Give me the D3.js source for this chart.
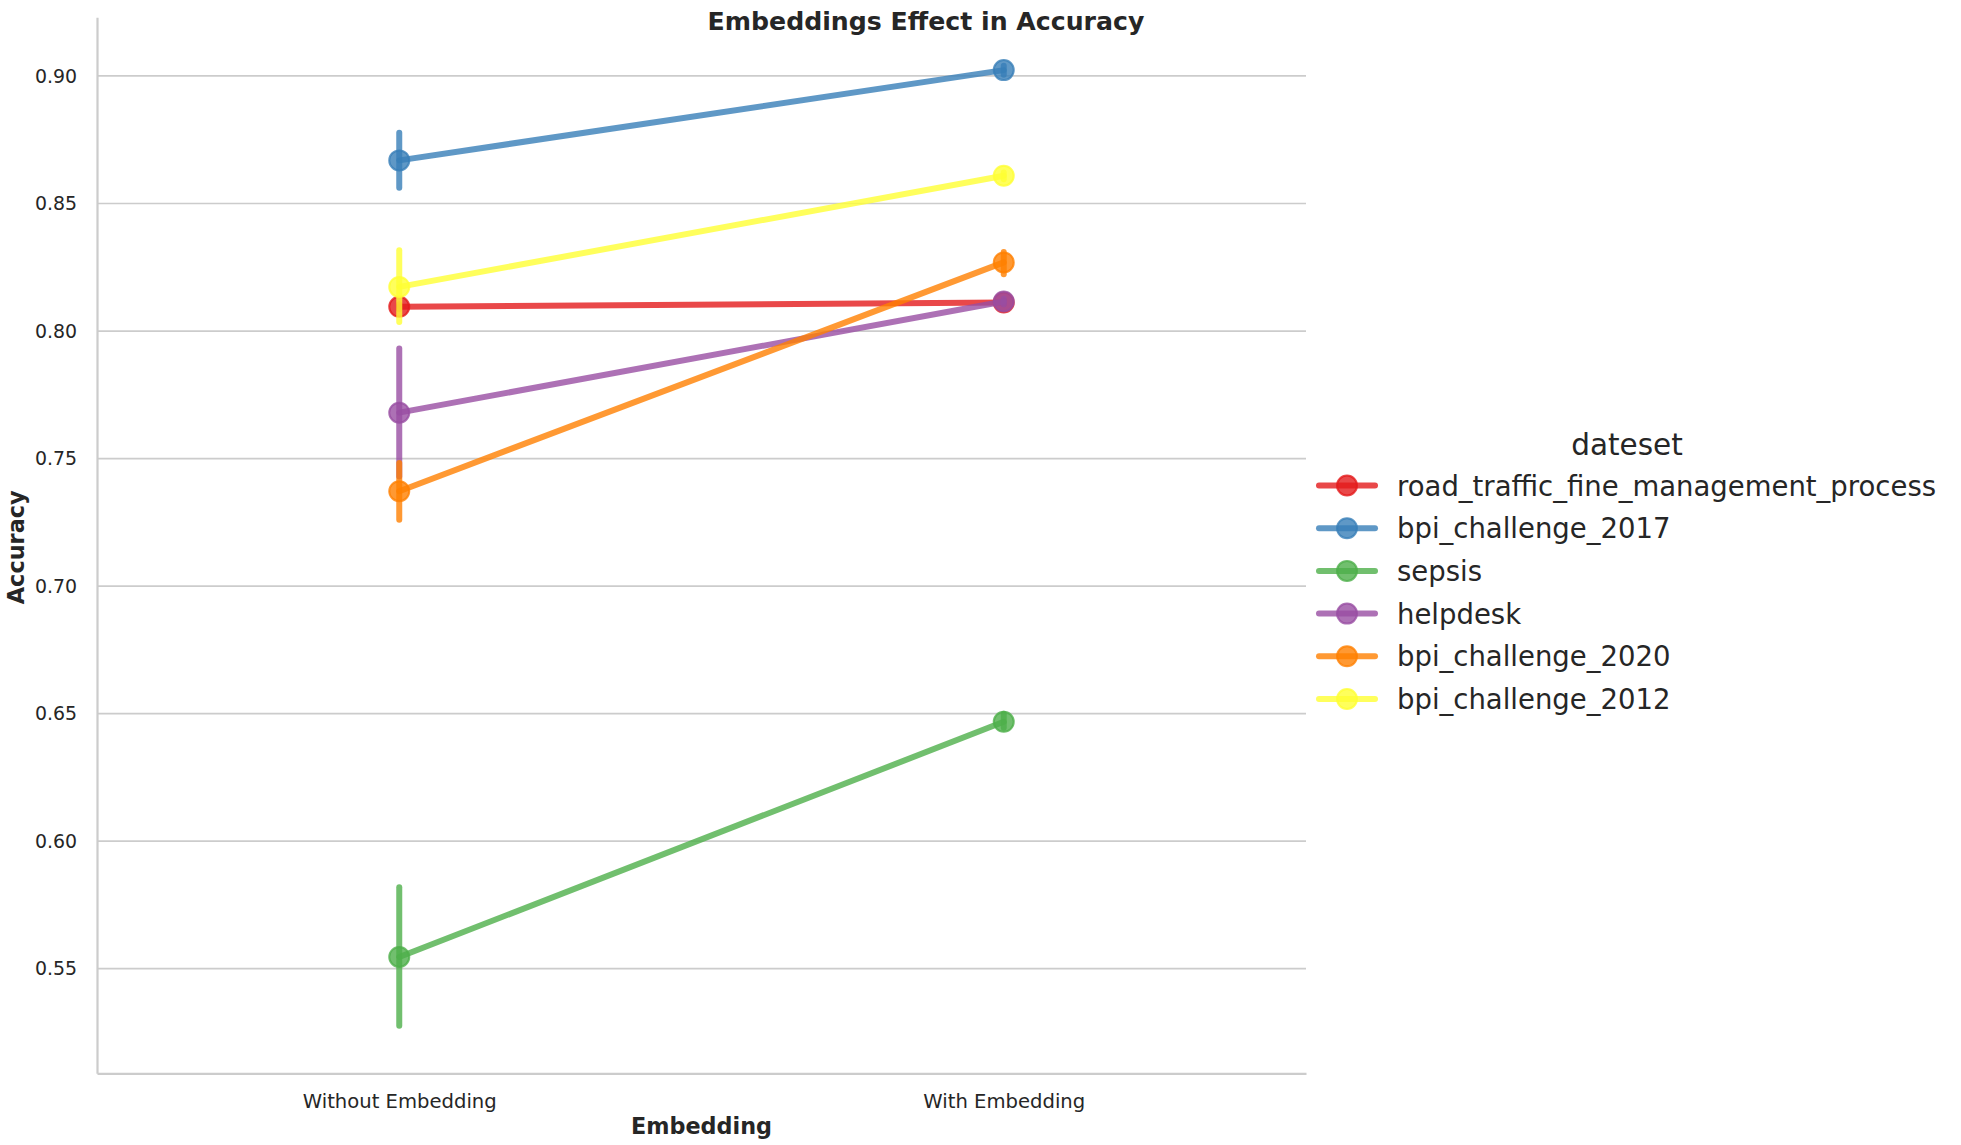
<!DOCTYPE html>
<html>
<head>
<meta charset="utf-8">
<script src="https://cdn.jsdelivr.net/npm/d3@7"></script>
<style>
  body { margin: 0; background: #fff; }
  svg { font-family: "DejaVu Sans", sans-serif; }
</style>
</head>
<body>
<svg width="1961" height="1145"></svg>
<script>
// categories on the x axis
const categories = ["Without Embedding", "With Embedding"];

// hue levels, in seaborn draw order
const datasets = [
  "road_traffic_fine_management_process",
  "bpi_challenge_2017",
  "sepsis",
  "helpdesk",
  "bpi_challenge_2020",
  "bpi_challenge_2012"
];
const colors = ["#e41a1c", "#377eb8", "#4daf4a", "#984ea3", "#ff7f00", "#ffff33"];

// mean accuracy per dataset: [without, with]
const means = [
  [0.8095, 0.8112],
  [0.8669, 0.9023],
  [0.5546, 0.6468],
  [0.7680, 0.8116],
  [0.7372, 0.8269],
  [0.8173, 0.8609]
];
// confidence intervals per dataset: [[lo, hi] without, [lo, hi] with]
const ci = [
  [[0.8085, 0.8105], [0.8105, 0.8120]],
  [[0.8562, 0.8777], [0.9005, 0.9040]],
  [[0.5276, 0.5819], [0.6445, 0.6500]],
  [[0.7430, 0.7932], [0.8105, 0.8127]],
  [[0.7260, 0.7483], [0.8223, 0.8310]],
  [[0.8035, 0.8317], [0.8595, 0.8622]]
];

const yTicks = [0.55, 0.60, 0.65, 0.70, 0.75, 0.80, 0.85, 0.90];

const svg = d3.select("svg");
const textColor = "#262626";
const gridColor = "#cccccc";

const plotLeft = 97, plotRight = 1306, plotTop = 17.3, plotBottom = 1073.3;
const lw = 6, mr = 10;

const x = d3.scalePoint().domain(categories).range([plotLeft, plotRight]).padding(0.5);
const y = d3.scaleLinear().domain([0.509, 0.923]).range([plotBottom, plotTop]);

// grid
svg.append("g")
  .selectAll("line")
  .data(yTicks)
  .enter().append("line")
  .attr("x1", plotLeft).attr("x2", plotRight)
  .attr("y1", d => y(d)).attr("y2", d => y(d))
  .attr("stroke", gridColor)
  .attr("stroke-width", 1.7);

// y axis
const yAxis = svg.append("g")
  .attr("transform", `translate(${plotLeft},0)`)
  .call(d3.axisLeft(y).tickValues(yTicks).tickFormat(d3.format(".2f")).tickSize(0).tickPadding(20));
yAxis.select(".domain").attr("stroke", gridColor).attr("stroke-width", 2.2);
yAxis.selectAll("text").attr("font-size", 18.9).attr("fill", textColor)
  .attr("font-family", "DejaVu Sans");

// x axis
const xAxis = svg.append("g")
  .attr("transform", `translate(0,${plotBottom})`)
  .call(d3.axisBottom(x).tickSize(0).tickPadding(0));
xAxis.select(".domain").attr("stroke", gridColor).attr("stroke-width", 2.2);
xAxis.selectAll("text").attr("font-size", 19.6).attr("fill", textColor)
  .attr("font-family", "DejaVu Sans").attr("dy", null).attr("y", 35);

// series
datasets.forEach((name, i) => {
  const g = svg.append("g").attr("class", "series");
  const c = colors[i];
  // error bars
  g.selectAll("line.err")
    .data(categories.map((cat, j) => ({ cat, lo: ci[i][j][0], hi: ci[i][j][1] })))
    .enter().append("line")
    .attr("class", "err")
    .attr("x1", d => x(d.cat)).attr("x2", d => x(d.cat))
    .attr("y1", d => y(d.lo)).attr("y2", d => y(d.hi))
    .attr("stroke", c).attr("stroke-opacity", 0.8)
    .attr("stroke-width", lw).attr("stroke-linecap", "round");
  const pts = categories.map((cat, j) => ({ cat, v: means[i][j] }));
  g.append("path")
    .datum(pts)
    .attr("d", d3.line().x(d => x(d.cat)).y(d => y(d.v)))
    .attr("fill", "none")
    .attr("stroke", c).attr("stroke-opacity", 0.8)
    .attr("stroke-width", lw).attr("stroke-linecap", "round");
  g.selectAll("circle")
    .data(pts)
    .enter().append("circle")
    .attr("cx", d => x(d.cat)).attr("cy", d => y(d.v))
    .attr("r", mr)
    .attr("fill", c).attr("fill-opacity", 0.8)
    .attr("stroke", c).attr("stroke-opacity", 0.8).attr("stroke-width", 2);
});

// titles
svg.append("text")
  .attr("x", 926).attr("y", 30)
  .attr("text-anchor", "middle")
  .attr("font-size", 25.2).attr("font-weight", "bold").attr("fill", textColor)
  .text("Embeddings Effect in Accuracy");

svg.append("text")
  .attr("x", (plotLeft + plotRight) / 2).attr("y", 1134)
  .attr("text-anchor", "middle")
  .attr("font-size", 22.3).attr("font-weight", "bold").attr("fill", textColor)
  .text("Embedding");

svg.append("text")
  .attr("transform", `translate(24,${(plotTop + plotBottom) / 2 + 2}) rotate(-90)`)
  .attr("text-anchor", "middle")
  .attr("font-size", 22.4).attr("font-weight", "bold").attr("fill", textColor)
  .text("Accuracy");

// legend
const legend = svg.append("g").attr("transform", "translate(1317,0)");
legend.append("text")
  .attr("x", 310).attr("y", 454.5)
  .attr("text-anchor", "middle")
  .attr("font-size", 29.5).attr("fill", textColor)
  .text("dateset");

const rows = legend.selectAll("g.row")
  .data(datasets)
  .enter().append("g")
  .attr("class", "row")
  .attr("transform", (d, i) => `translate(0,${485.5 + i * 42.7})`);
rows.append("line")
  .attr("x1", 2).attr("x2", 58)
  .attr("stroke", (d, i) => colors[i]).attr("stroke-opacity", 0.8)
  .attr("stroke-width", lw).attr("stroke-linecap", "round");
rows.append("circle")
  .attr("cx", 30).attr("r", mr)
  .attr("fill", (d, i) => colors[i]).attr("fill-opacity", 0.8)
  .attr("stroke", (d, i) => colors[i]).attr("stroke-opacity", 0.8).attr("stroke-width", 2);
rows.append("text")
  .attr("x", 80).attr("y", 10)
  .attr("font-size", 27.5).attr("fill", textColor)
  .text(d => d);
</script>
</body>
</html>
